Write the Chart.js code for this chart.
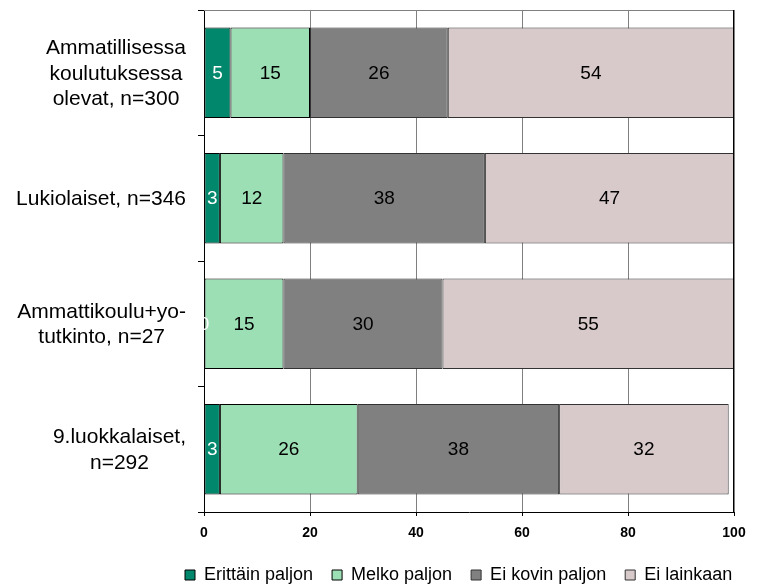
<!DOCTYPE html>
<html><head><meta charset="utf-8">
<script src="https://cdn.jsdelivr.net/npm/chart.js@4/dist/chart.umd.min.js"></script>
<style>html,body{margin:0;padding:0;background:#fff}#wrap{width:759px;height:584px;position:relative}</style>
</head><body><div id="wrap"><canvas id="c" width="759" height="584"></canvas></div>
<script>
const categories = [
  ['Ammatillisessa', 'koulutuksessa', 'olevat, n=300'],
  ['Lukiolaiset, n=346'],
  ['Ammattikoulu+yo-', 'tutkinto, n=27'],
  ['9.luokkalaiset,', 'n=292']
];
const seriesNames = ['Erittäin paljon', 'Melko paljon', 'Ei kovin paljon', 'Ei lainkaan'];
const erittainPaljon = [5, 3, 0, 3];
const melkoPaljon = [15, 12, 15, 26];
const eiKovinPaljon = [26, 38, 30, 38];
const eiLainkaan = [54, 47, 55, 32];
const xTicks = [0, 20, 40, 60, 80, 100];

const FONT = "'Liberation Sans', Arial, sans-serif";
const seriesValues = [erittainPaljon, melkoPaljon, eiKovinPaljon, eiLainkaan];
const fills = ['#00876C', '#9DDFB4', '#808080', '#D8C9CA'];
const borders = ['#000000', '#000000', '#333333', '#333333'];
const labelColors = ['#ffffff', '#000000', '#000000', '#000000'];

const legendFix = {
  id: 'legendFix',
  beforeLayout(chart) {
    const lg = chart.legend;
    if (lg && !lg._wrapped) {
      const orig = lg.fit;
      lg.fit = function () { orig.call(this); this.height = 37; };
      lg._wrapped = true;
    }
  },
  afterLayout(chart) {
    const lg = chart.legend;
    if (lg) { lg.left = 185 - 19; lg.right = 759; }
  }
};

const frame = {
  id: 'frame',
  afterDatasetsDraw(chart) {
    const {ctx, chartArea: a} = chart;
    ctx.save();
    ctx.lineWidth = 1;
    ctx.strokeStyle = '#808080';
    ctx.beginPath();
    ctx.moveTo(a.left, Math.round(a.top) + 0.5);
    ctx.lineTo(a.right, Math.round(a.top) + 0.5);
    ctx.stroke();
    ctx.strokeStyle = '#000';
    ctx.beginPath();
    ctx.moveTo(Math.round(a.right) - 0.5, a.top);
    ctx.lineTo(Math.round(a.right) - 0.5, a.bottom);
    ctx.stroke();
    ctx.restore();
  }
};

const valueLabels = {
  id: 'valueLabels',
  afterDatasetsDraw(chart) {
    const ctx = chart.ctx;
    ctx.save();
    ctx.font = '19px ' + FONT;
    ctx.textAlign = 'center';
    ctx.textBaseline = 'middle';
    chart.data.datasets.forEach((ds, di) => {
      const meta = chart.getDatasetMeta(di);
      meta.data.forEach((el, i) => {
        const p = el.getProps(['x', 'y', 'base'], true);
        ctx.fillStyle = labelColors[di];
        ctx.fillText(String(ds.data[i]), (p.x + p.base) / 2, p.y + 1);
      });
    });
    ctx.restore();
  }
};

const catLabels = {
  id: 'catLabels',
  afterDraw(chart) {
    const ctx = chart.ctx;
    const ys = chart.scales.y;
    ctx.save();
    ctx.font = '21px ' + FONT;
    ctx.fillStyle = '#000';
    ctx.textAlign = 'center';
    ctx.textBaseline = 'middle';
    const rightEdge = 186;
    const lh = 25.5;
    categories.forEach((lines, i) => {
      const cy = ys.getPixelForTick(i);
      const w = Math.max(...lines.map(l => ctx.measureText(l).width));
      const cx = rightEdge - w / 2;
      lines.forEach((l, j) => {
        ctx.fillText(l, cx, cy + (j - (lines.length - 1) / 2) * lh + 1);
      });
    });
    ctx.restore();
  }
};

new Chart(document.getElementById('c'), {
  type: 'bar',
  data: {
    labels: categories,
    datasets: seriesNames.map((name, k) => ({
      label: name,
      data: seriesValues[k],
      backgroundColor: fills[k],
      borderColor: borders[k],
      borderWidth: 1,
      borderSkipped: false,
      barPercentage: 0.72,
      categoryPercentage: 1.0
    }))
  },
  options: {
    indexAxis: 'y',
    responsive: false,
    animation: false,
    devicePixelRatio: 1,
    layout: {padding: {top: 10, right: 25, left: 0, bottom: 0}},
    plugins: {
      tooltip: {enabled: false},
      legend: {
        position: 'bottom',
        align: 'start',
        labels: {
          boxWidth: 10,
          boxHeight: 10,
          padding: 19,
          color: '#000',
          font: {family: FONT, size: 18}
        }
      }
    },
    scales: {
      x: {
        stacked: true,
        min: 0,
        max: 100,
        afterBuildTicks: s => { s.ticks = xTicks.map(v => ({value: v})); },
        afterFit: s => { s.height = 35; },
        grid: {color: '#808080', tickColor: '#000', tickLength: 4, lineWidth: 1},
        border: {color: '#000', width: 1},
        ticks: {color: '#000', padding: 9, font: {family: FONT, size: 14, weight: 'bold'}, maxRotation: 0}
      },
      y: {
        stacked: true,
        afterFit: s => { s.width = 204; },
        grid: {drawOnChartArea: false, offset: true, tickLength: 6, color: '#000'},
        border: {color: '#000', width: 1},
        ticks: {display: false}
      }
    }
  },
  plugins: [legendFix, frame, valueLabels, catLabels]
});
</script>
</body></html>
